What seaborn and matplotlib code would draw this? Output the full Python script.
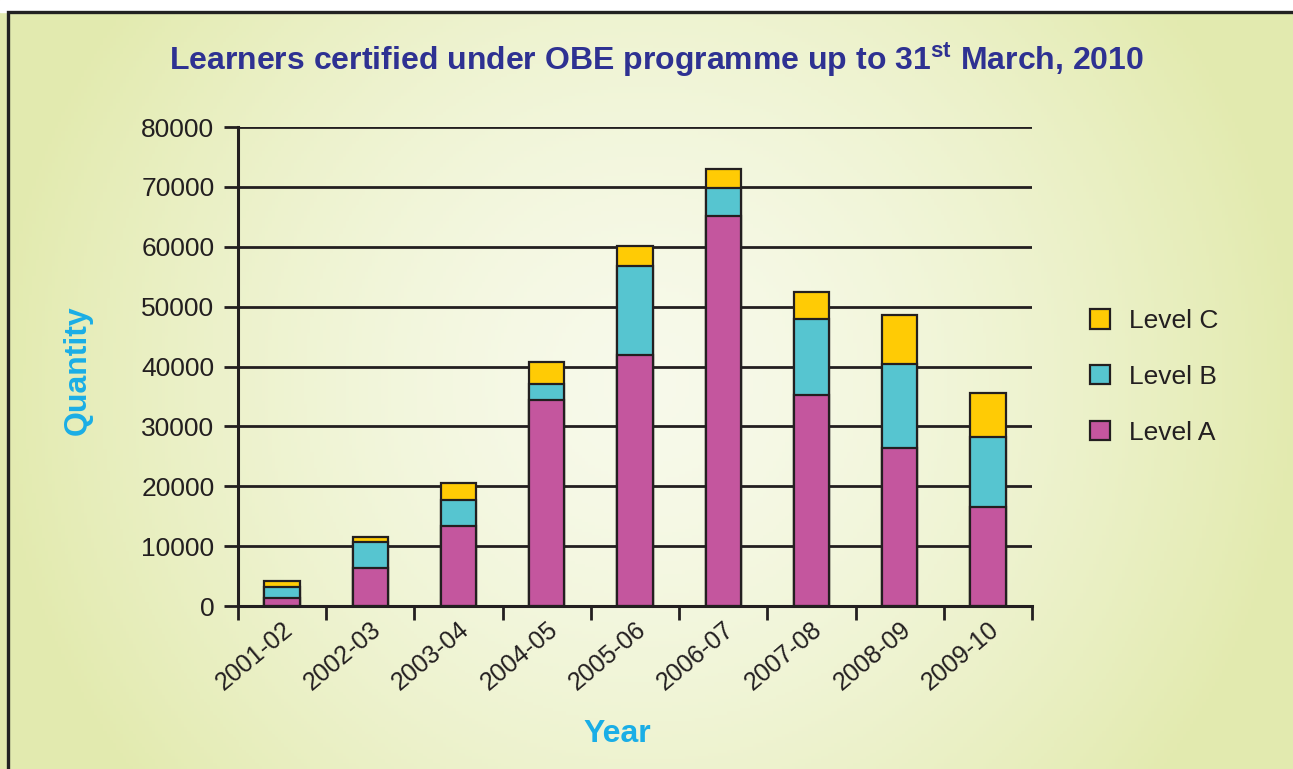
"""Stacked bar chart: learners certified under OBE programme, by level."""
import matplotlib.pyplot as plt
import numpy as np
import pandas as pd
import seaborn as sns
from matplotlib.patches import Patch, Rectangle

YEARS = ["2001-02", "2002-03", "2003-04", "2004-05", "2005-06",
         "2006-07", "2007-08", "2008-09", "2009-10"]
LEVEL_A = [1300, 6300, 13400, 34400, 41900, 65100, 35200, 26400, 16600]
LEVEL_B = [1900, 4400, 4300, 2700, 14900, 4700, 12700, 14000, 11700]
LEVEL_C = [1000, 850, 2800, 3700, 3350, 3200, 4550, 8200, 7200]
Y_TICKS = [0, 10000, 20000, 30000, 40000, 50000, 60000, 70000, 80000]

COL_A = "#c4569e"
COL_B = "#56c5d0"
COL_C = "#ffcb05"
TITLE_COL = "#2e3192"
LABEL_COL = "#1aaee6"

sns.set_theme(style="white")
plt.rcParams["font.family"] = ["Liberation Sans", "DejaVu Sans"]

df = pd.DataFrame({"year": YEARS, "A": LEVEL_A, "B": LEVEL_B, "C": LEVEL_C})
df["AB"] = df["A"] + df["B"]
df["ABC"] = df["AB"] + df["C"]

fig = plt.figure(figsize=(12.93, 7.69), dpi=100)

# soft background gradient, lighter towards the middle
bg = fig.add_axes([0, 0, 1, 1], zorder=-10)
xx, yy = np.meshgrid(np.linspace(-1, 1, 400), np.linspace(-1, 1, 240))
d = np.clip(np.sqrt((xx * 1.0) ** 2 + (yy * 0.6) ** 2), 0, 1)
inner = np.array([0.97, 0.98, 0.92])
outer = np.array([0.89, 0.92, 0.69])
img = inner[None, None, :] * (1 - d[..., None] ** 1.5) + outer[None, None, :] * d[..., None] ** 1.5
bg.imshow(img, extent=[0, 1, 0, 1], aspect="auto", origin="lower")
bg.add_patch(Rectangle((0, 1 - 12 / 769), 1, 12 / 769, color="white", transform=bg.transAxes))
bg.add_patch(Rectangle((8 / 1293, -0.1), 1.2, 1 - 12 / 769 + 0.1, fill=False,
                       edgecolor="#222222", linewidth=2.4, transform=bg.transAxes))
bg.set_xlim(0, 1)
bg.set_ylim(0, 1)
bg.axis("off")

ax = fig.add_axes([238 / 1293, 1 - 606 / 769, (1032 - 238) / 1293, (606 - 127) / 769])
ax.set_facecolor("none")
ax.set_axisbelow(True)

for col, color in [("ABC", COL_C), ("AB", COL_B), ("A", COL_A)]:
    sns.barplot(data=df, x="year", y=col, color=color, width=0.4,
                edgecolor="#231f20", linewidth=1.6, saturation=1, ax=ax)

ax.set_xlim(-0.5, len(YEARS) - 0.5)
ax.set_ylim(0, 80000)
ax.set_yticks(Y_TICKS)
ax.set_yticklabels([str(v) for v in Y_TICKS], fontsize=19, color="#231f20")
for v in Y_TICKS[1:]:
    ax.axhline(v, color="#231f20", linewidth=2.0, zorder=0)

ax.set_xticks(np.arange(-0.5, len(YEARS), 1.0))
ax.set_xticklabels([])
ax.set_xticks(np.arange(len(YEARS)), minor=True)
ax.set_xticklabels(YEARS, minor=True, rotation=40, ha="right", rotation_mode="anchor",
                   fontsize=18, color="#231f20")
ax.tick_params(axis="x", which="major", direction="out", length=10, width=2,
               color="#231f20", bottom=True)
ax.tick_params(axis="x", which="minor", length=0, pad=8, bottom=True)
ax.tick_params(axis="y", direction="out", length=10, width=2, color="#231f20",
               left=True, pad=7)

for side in ["top", "right"]:
    ax.spines[side].set_visible(False)
for side in ["left", "bottom"]:
    ax.spines[side].set_color("#231f20")
    ax.spines[side].set_linewidth(2.2)

ax.set_xlabel("")
ax.set_ylabel("")
fig.text(78 / 1293, 1 - 370 / 769, "Quantity", rotation=90, ha="center", va="center",
         fontsize=23, fontweight="bold", color=LABEL_COL)
fig.text(617 / 1293, 1 - 734 / 769, "Year", ha="center", va="center",
         fontsize=23, fontweight="bold", color=LABEL_COL)
fig.text(657 / 1293, 1 - 60 / 769, r"Learners certified under OBE programme up to 31$^{\mathregular{st}}$ March, 2010",
         ha="center", va="center", fontsize=23, fontweight="bold", color=TITLE_COL)

handles = [Patch(facecolor=COL_C, edgecolor="#231f20", linewidth=1.6, label="Level C"),
           Patch(facecolor=COL_B, edgecolor="#231f20", linewidth=1.6, label="Level B"),
           Patch(facecolor=COL_A, edgecolor="#231f20", linewidth=1.6, label="Level A")]
fig.legend(handles=handles, loc="center left", bbox_to_anchor=(1066 / 1293, 1 - 377 / 769),
           frameon=False, fontsize=19, handlelength=0.75, handleheight=0.75,
           labelspacing=1.2, handletextpad=0.75, labelcolor="#231f20")

fig.savefig("out.png", dpi=100)
